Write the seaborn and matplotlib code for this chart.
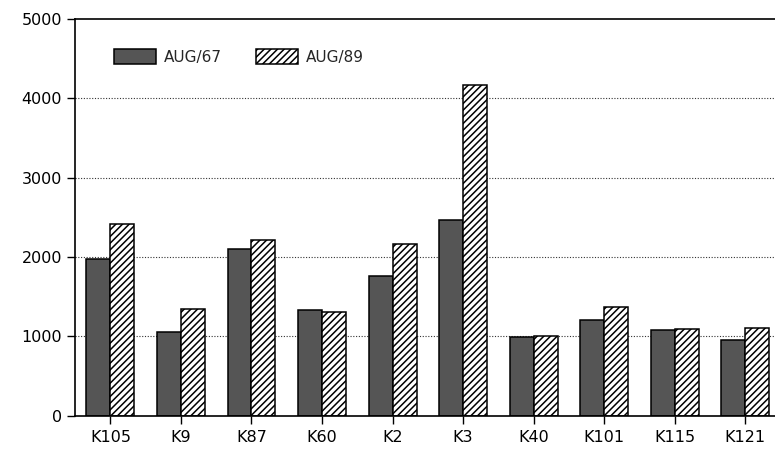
import numpy as np
import pandas as pd
import matplotlib
matplotlib.use("Agg")
import matplotlib.pyplot as plt
import seaborn as sns

sites = ["K105", "K9", "K87", "K60", "K2", "K3", "K40", "K101", "K115", "K121"]
aug67 = [1980, 1050, 2100, 1335, 1760, 2470, 990, 1210, 1085, 960]
aug89 = [2420, 1340, 2220, 1310, 2170, 4170, 1005, 1370, 1095, 1110]
periods = ["AUG/67", "AUG/89"]

df = pd.DataFrame({
    "site": sites * 2,
    "value": aug67 + aug89,
    "period": [periods[0]] * len(sites) + [periods[1]] * len(sites),
})

sns.set_style("ticks")
plt.rcParams["font.family"] = ["DejaVu Sans"]
plt.rcParams["hatch.linewidth"] = 1.1

fig = plt.figure(figsize=(7.75, 4.5), dpi=100)
ax = fig.add_axes([0.097, 0.076, 0.91, 0.882])

sns.barplot(data=df, x="site", y="value", hue="period", order=sites,
            palette=["#555555", "white"], edgecolor="black", linewidth=1.1,
            width=0.68, gap=0, ax=ax, legend=False)

for bar in ax.containers[1]:
    bar.set_hatch("/////")

ax.set_ylim(0, 5000)
ax.set_xlim(-0.5, len(sites) - 0.5)
ax.set_yticks([0, 1000, 2000, 3000, 4000, 5000])
ax.set_xlabel("")
ax.set_ylabel("")
ax.tick_params(axis="both", labelsize=11.5, length=6, width=1, colors="black")
ax.tick_params(axis="x", pad=4)
for y in [1000, 2000, 3000, 4000]:
    ax.axhline(y, color="#333333", linestyle=(0, (1, 1.5)), linewidth=0.8, zorder=0)

ax.spines["right"].set_visible(False)
for s in ["left", "bottom", "top"]:
    ax.spines[s].set_linewidth(1.2)
    ax.spines[s].set_color("black")

ax.legend(handles=[ax.containers[0][0], ax.containers[1][0]], labels=periods,
          loc="upper left", bbox_to_anchor=(0.035, 0.96), ncol=2, frameon=False,
          fontsize=11, handlelength=2.8, handleheight=1.2, handletextpad=0.5,
          columnspacing=2.2)

plt.savefig("out.png", dpi=100)
